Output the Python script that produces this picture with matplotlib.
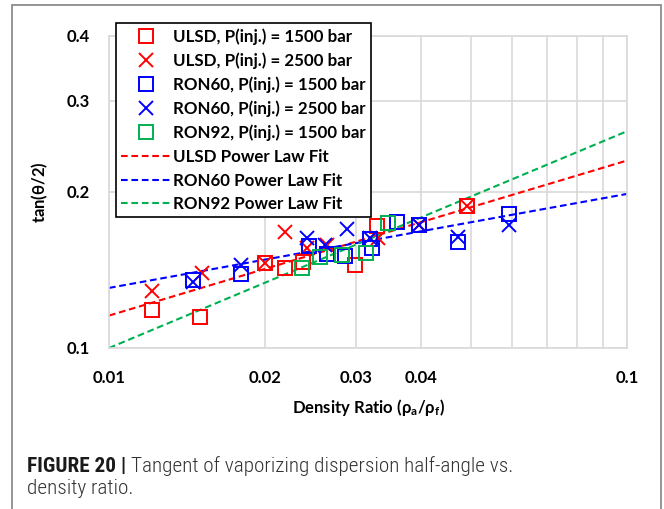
import matplotlib.pyplot as plt
from matplotlib.patches import Rectangle
from matplotlib.ticker import FixedLocator, NullFormatter, NullLocator

# ULSD, P(inj.) = 1500 bar
ulsd15_x = [0.0121, 0.0150, 0.0200, 0.0219, 0.0237, 0.02985, 0.0329, 0.0396, 0.0490]
ulsd15_y = [0.1184, 0.1146, 0.1457, 0.1425, 0.1465, 0.1446, 0.1718, 0.1728, 0.1880]
# ULSD, P(inj.) = 2500 bar
ulsd25_x = [0.0121, 0.0151, 0.0200, 0.0219, 0.0241, 0.0264, 0.0331, 0.0396, 0.0490]
ulsd25_y = [0.1290, 0.1394, 0.1457, 0.1677, 0.1560, 0.1580, 0.1630, 0.1728, 0.1880]
# RON60, P(inj.) = 1500 bar
ron60_15_x = [0.01455, 0.0180, 0.0243, 0.0264, 0.0286, 0.0319, 0.0322, 0.0359, 0.0396, 0.0472, 0.0593]
ron60_15_y = [0.1354, 0.1390, 0.1570, 0.1520, 0.1505, 0.1625, 0.1557, 0.1753, 0.1728, 0.1604, 0.1814]
# RON60, P(inj.) = 2500 bar
ron60_25_x = [0.01455, 0.0180, 0.0241, 0.0261, 0.0288, 0.0319, 0.0396, 0.0472, 0.0593]
ron60_25_y = [0.1343, 0.1446, 0.1630, 0.1580, 0.1694, 0.1630, 0.1728, 0.1640, 0.1728]
# RON92, P(inj.) = 1500 bar
ron92_x = [0.0236, 0.0256, 0.0282, 0.0314, 0.0345]
ron92_y = [0.1425, 0.1500, 0.1510, 0.1523, 0.1745]

# power law fits, end points read at x = 0.01 and x = 0.1
fit_x = [0.01, 0.1]
ulsd_fit_y = [0.1155, 0.2300]
ron60_fit_y = [0.1306, 0.1983]
ron92_fit_y = [0.1000, 0.2620]

RED = '#ff0000'
BLUE = '#0000ff'
GREEN = '#00b050'
FONT = ['Lato', 'DejaVu Sans']
CAP_FONT = ['Roboto Condensed', 'DejaVu Sans']

plt.rcParams['font.family'] = FONT
plt.rcParams['mathtext.fontset'] = 'custom'
plt.rcParams['mathtext.rm'] = 'Lato:bold'
plt.rcParams['mathtext.it'] = 'Lato:bold'

fig = plt.figure(figsize=(6.64, 5.09), dpi=100)
ax = fig.add_axes([109 / 664, 1 - 348 / 509, 518 / 664, 312 / 509])

ms = 9.5
mew = 1.4
ax.plot(ulsd15_x, ulsd15_y, 's', ms=ms, mfc='none', mec=RED, mew=mew,
        label='ULSD, P(inj.) = 1500 bar', zorder=3)
ax.plot(ulsd25_x, ulsd25_y, 'x', ms=ms, mec=RED, mew=mew,
        label='ULSD, P(inj.) = 2500 bar', zorder=3)
ax.plot(ron60_15_x, ron60_15_y, 's', ms=ms, mfc='none', mec=BLUE, mew=mew,
        label='RON60, P(inj.) = 1500 bar', zorder=3)
ax.plot(ron60_25_x, ron60_25_y, 'x', ms=ms, mec=BLUE, mew=mew,
        label='RON60, P(inj.) = 2500 bar', zorder=3)
ax.plot(ron92_x, ron92_y, 's', ms=ms, mfc='none', mec=GREEN, mew=mew,
        label='RON92, P(inj.) = 1500 bar', zorder=3)

lw = 1.5
dash = (3.2, 1.8)
ax.plot(fit_x, ulsd_fit_y, '--', color=RED, lw=lw, dashes=dash,
        label='ULSD Power Law Fit', zorder=2)
ax.plot(fit_x, ron60_fit_y, '--', color=BLUE, lw=lw, dashes=dash,
        label='RON60 Power Law Fit', zorder=2)
ax.plot(fit_x, ron92_fit_y, '--', color=GREEN, lw=lw, dashes=dash,
        label='RON92 Power Law Fit', zorder=2)

ax.set_xscale('log')
ax.set_yscale('log')
ax.set_xlim(0.01, 0.1)
ax.set_ylim(0.1, 0.4)

# grid: every minor step on x, 0.1 steps on y
ax.xaxis.set_major_locator(FixedLocator([0.01, 0.02, 0.03, 0.04, 0.1]))
ax.xaxis.set_minor_locator(FixedLocator([0.05, 0.06, 0.07, 0.08, 0.09]))
ax.xaxis.set_minor_formatter(NullFormatter())
ax.set_xticklabels(['0.01', '0.02', '0.03', '0.04', '0.1'])
ax.yaxis.set_major_locator(FixedLocator([0.1, 0.2, 0.3, 0.4]))
ax.yaxis.set_minor_locator(NullLocator())
ax.set_yticklabels(['0.1', '0.2', '0.3', '0.4'])

ax.grid(True, which='both', axis='x', color='#d9d9d9', lw=1.2)
ax.grid(True, which='major', axis='y', color='#d9d9d9', lw=1.2)
ax.set_axisbelow(True)
for s in ax.spines.values():
    s.set_color('#d9d9d9')
    s.set_linewidth(1.2)

ax.tick_params(which='both', length=0)
ax.tick_params(axis='x', pad=16, labelsize=12)
ax.tick_params(axis='y', pad=14, labelsize=12)
for lab in ax.get_xticklabels() + ax.get_yticklabels():
    lab.set_fontweight('bold')

ax.set_xlabel(r'Density Ratio ($\mathregular{\rho_a/\rho_f}$)', fontsize=12,
              fontweight='bold', labelpad=8)
ax.set_ylabel(r'tan($\mathregular{\theta}$/2)', fontsize=12, fontweight='bold',
              labelpad=12)

leg = ax.legend(loc='upper left', bbox_to_anchor=(7 / 518, 1 + 13 / 312),
                frameon=True, fancybox=False, edgecolor='black', framealpha=1,
                prop={'family': FONT, 'weight': 'bold', 'size': 12.2},
                handlelength=2.9, handletextpad=0.15, labelspacing=0.45,
                borderpad=0.3, borderaxespad=0)
leg.get_frame().set_linewidth(1.2)
leg.set_zorder(5)

# outer frame of the figure panel
fig.patches.append(Rectangle((12 / 664, -0.05), 649 / 664, 1.05 - 5 / 509,
                             transform=fig.transFigure, fill=False,
                             edgecolor='#8c8c8c', lw=1.3))

# caption
t1 = fig.text(27 / 664, 1 - 466 / 509, 'FIGURE 20 |', fontsize=15.3,
              fontweight='bold', family=CAP_FONT, color='#1a1a1a', va='center')
fig.canvas.draw()
bb = t1.get_window_extent()
fig.text(bb.x1 / 664 + 5 / 664, 1 - 466 / 509,
         'Tangent of vaporizing dispersion half-angle vs.', fontsize=15.3,
         family=CAP_FONT, fontweight='light', color='#333333', va='center')
fig.text(27 / 664, 1 - 489 / 509, 'density ratio.', fontsize=15.3,
         family=CAP_FONT, fontweight='light', color='#333333', va='center')

fig.savefig('out.png', dpi=100)
